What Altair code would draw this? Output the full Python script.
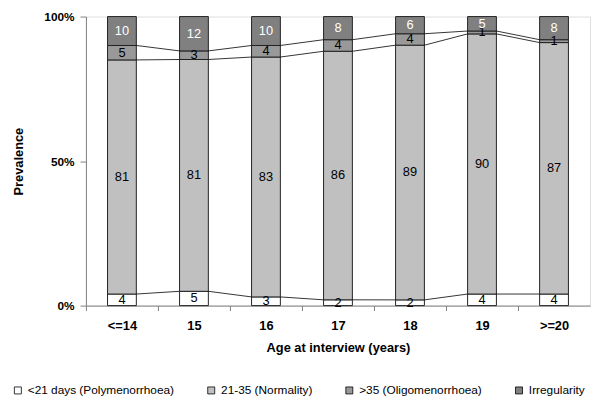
import altair as alt
import pandas as pd

ages = ["<=14", "15", "16", "17", "18", "19", ">=20"]
poly = [4, 5, 3, 2, 2, 4, 4]
normal = [81, 81, 83, 86, 89, 90, 87]
oligo = [5, 3, 4, 4, 4, 1, 1]
irreg = [10, 12, 10, 8, 6, 5, 8]
series = ["<21 days (Polymenorrhoea)", "21-35 (Normality)",
          ">35 (Oligomenorrhoea)", "Irregularity"]
colors = ["#ffffff", "#c0c0c0", "#999999", "#808080"]

rows = []
cums = []
for i, a in enumerate(ages):
    vals = [poly[i], normal[i], oligo[i], irreg[i]]
    tot = sum(vals)
    c = 0
    bounds = []
    for s, v in zip(series, vals):
        y0 = c / tot
        c += v
        y1 = c / tot
        rows.append(dict(age=a, series=s, value=v, y0=y0, y1=y1, mid=(y0 + y1) / 2))
        bounds.append(y1)
    cums.append(bounds[:3])
df = pd.DataFrame(rows)

lines = []
for i in range(len(ages) - 1):
    for k in range(3):
        lines.append(dict(frm=ages[i], to=ages[i + 1], ya=cums[i][k], yb=cums[i + 1][k]))
ldf = pd.DataFrame(lines)

FONT = "Liberation Sans"
xscale = alt.Scale(domain=ages, paddingInner=0.6, paddingOuter=0.3)
yscale = alt.Scale(domain=[0, 1])

bars = alt.Chart(df).mark_bar(stroke="#222222", strokeWidth=1).encode(
    x=alt.X("age:N", scale=xscale, title="Age at interview (years)",
            axis=alt.Axis(labelAngle=0, labelFontSize=13, labelFontWeight="bold",
                          labelColor="#000", domainColor="#808080", tickColor="#808080",
                          tickSize=5, tickOffset=-36.5, labelOffset=36.5, labelPadding=9,
                          titleFontSize=13, titleFontWeight="bold", titleColor="#000",
                          titlePadding=10)),
    y=alt.Y("y0:Q", scale=yscale, title="Prevalence",
            axis=alt.Axis(values=[0, 0.5, 1], format=".0%", labelFontSize=12,
                          labelFontWeight="bold", labelColor="#000", grid=False,
                          domainColor="#808080", tickColor="#808080", tickSize=6,
                          labelPadding=6, titleFontSize=13, titleFontWeight="bold",
                          titleColor="#000", titlePadding=19)),
    y2="y1:Q",
    color=alt.Color("series:N", scale=alt.Scale(domain=series, range=colors),
                    legend=alt.Legend(title=None, orient="none", legendX=-75, legendY=373,
                                      direction="horizontal", columns=4, columnPadding=31,
                                      symbolType="square", symbolSize=50,
                                      symbolStrokeColor="#000", symbolStrokeWidth=0.8,
                                      labelFontSize=12, labelColor="#000", labelOffset=4,
                                      labelLimit=300, padding=0)),
)

rules = alt.Chart(ldf).mark_rule(color="#000", strokeWidth=0.8).encode(
    x=alt.X("frm:N", bandPosition=1, scale=xscale),
    x2=alt.X2("to:N", bandPosition=0),
    y=alt.Y("ya:Q", scale=yscale),
    y2=alt.Y2("yb:Q"),
)

txt_dark = alt.Chart(df).transform_filter(
    alt.datum.series != "Irregularity"
).mark_text(fontSize=13, font=FONT, color="#000").encode(
    x=alt.X("age:N", scale=xscale),
    y=alt.Y("mid:Q", scale=yscale),
    text="value:Q",
)
txt_light = alt.Chart(df).transform_filter(
    alt.datum.series == "Irregularity"
).mark_text(fontSize=13, font=FONT, color="#fff").encode(
    x=alt.X("age:N", scale=xscale),
    y=alt.Y("mid:Q", scale=yscale),
    text="value:Q",
)

chart = alt.layer(bars, rules, txt_dark, txt_light).properties(
    width=511, height=293,
    autosize=alt.AutoSizeParams(type="none"),
    padding={"left": 79, "top": 6, "right": 2, "bottom": 93},
).configure_view(stroke=None).configure(font=FONT)

chart.save("out.html", embed_options={"renderer": "svg", "actions": False})
